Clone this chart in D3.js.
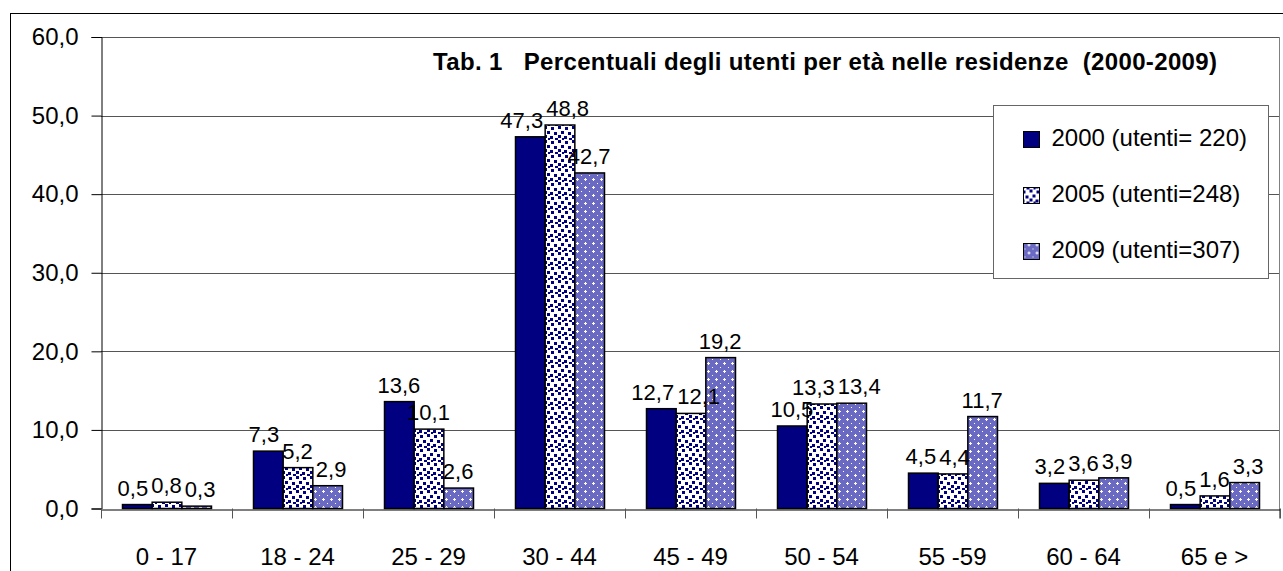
<!DOCTYPE html>
<html>
<head>
<meta charset="utf-8">
<script src="https://cdn.jsdelivr.net/npm/d3@7/dist/d3.min.js"></script>
<style>
  body { margin:0; background:#fff; }
  text { font-family: "Liberation Sans", Arial, sans-serif; fill:#000; }
</style>
</head>
<body>
<div id="chart"></div>
<script>
// data
const categories = ["0 - 17","18 - 24","25 - 29","30 - 44","45 - 49","50 - 54","55 -59","60 - 64","65 e >"];
const years = ["2000","2005","2009"];
const legendLabels = ["2000 (utenti= 220)","2005 (utenti=248)","2009 (utenti=307)"];
const v2000 = [0.5, 7.3, 13.6, 47.3, 12.7, 10.5, 4.5, 3.2, 0.5];
const v2005 = [0.8, 5.2, 10.1, 48.8, 12.1, 13.3, 4.4, 3.6, 1.6];
const v2009 = [0.3, 2.9, 2.6, 42.7, 19.2, 13.4, 11.7, 3.9, 3.3];
const yTicks = [0,10,20,30,40,50,60];
const title = "Tab. 1   Percentuali degli utenti per età nelle residenze  (2000-2009)";

const series = [v2000, v2005, v2009];
const fills = ["#000080","url(#dots)","url(#fine)"];
const fmt = d => d.toFixed(1).replace(".", ",");

const W = 1283, H = 571;
const pLeft = 101, pRight = 1280, pTop = 37, pBottom = 508.5;

const svg = d3.select("#chart").append("svg")
    .attr("width", W).attr("height", H);

// patterns
const defs = svg.append("defs");
const fine = defs.append("pattern").attr("id","fine")
    .attr("patternUnits","userSpaceOnUse").attr("width",8).attr("height",8);
fine.append("rect").attr("width",8).attr("height",8).attr("fill","#6a6ac2");
fine.append("rect").attr("x",3).attr("y",2).attr("width",1).attr("height",3).attr("fill","#fff");
fine.append("rect").attr("x",2).attr("y",3).attr("width",3).attr("height",1).attr("fill","#fff");
fine.append("rect").attr("x",7).attr("y",7).attr("width",1).attr("height",1).attr("fill","#fff");

const dots = defs.append("pattern").attr("id","dots")
    .attr("patternUnits","userSpaceOnUse").attr("width",14).attr("height",14);
dots.append("rect").attr("width",14).attr("height",14).attr("fill","#fff");
[[1,1],[8,0],[11,5],[4,6],[0,10],[8,9],[12,12],[5,12]].forEach(p => {
  dots.append("rect").attr("x",p[0]).attr("y",p[1]).attr("width",3).attr("height",3).attr("fill","#000080");
});

// outer border
svg.append("rect").attr("x",10.5).attr("y",13.5).attr("width",1300).attr("height",600)
    .attr("fill","none").attr("stroke","#000");

const x = d3.scaleBand().domain(categories).range([pLeft, pRight]);
const xs = d3.scaleBand().domain(years).range([21, 110]);
const y = d3.scaleLinear().domain([0,60]).range([pBottom, pTop]);

// gridlines
svg.append("g").selectAll("line").data(yTicks.slice(1)).enter().append("line")
    .attr("x1", pLeft).attr("x2", pRight)
    .attr("y1", d => Math.round(y(d)) + 0.5).attr("y2", d => Math.round(y(d)) + 0.5)
    .attr("stroke","#555");
svg.append("line").attr("x1", pRight - 0.5).attr("x2", pRight - 0.5)
    .attr("y1", pTop).attr("y2", pBottom + 10).attr("stroke","#808080");

// y axis
const yAxis = svg.append("g").attr("transform","translate(" + (pLeft + 0.5) + ",0)")
    .call(d3.axisLeft(y).tickValues(yTicks).tickFormat(fmt).tickSize(10).tickPadding(13));
yAxis.selectAll("text").style("font-size","24px").attr("font-family",null);
yAxis.select(".domain").attr("stroke","#000");

// bars
const barLayer = svg.append("g");
const labelLayer = svg.append("g");
categories.forEach((c, ci) => {
  const g = barLayer.append("g").attr("transform", "translate(" + x(c) + ",0)");
  const gl = labelLayer.append("g").attr("transform", "translate(" + x(c) + ",0)");
  const labs = [];
  years.forEach((yr, si) => {
    const v = series[si][ci];
    g.append("rect")
      .attr("x", xs(yr) + 0.5).attr("width", xs.bandwidth())
      .attr("y", y(v)).attr("height", pBottom - y(v))
      .attr("fill", fills[si]).attr("stroke","#000").attr("stroke-width",1.5);
    const t = gl.append("text")
      .attr("y", y(v) - 9)
      .attr("text-anchor","middle")
      .style("font-size","22px")
      .text(fmt(v));
    labs.push({ t: t, cx: xs(yr) + xs.bandwidth() / 2, y: y(v) - 9, w: t.node().getComputedTextLength() });
  });
  // spread labels apart that sit at about the same height
  for (let k = 0; k < 20; k++) {
    for (let i = 0; i < labs.length - 1; i++) {
      const a = labs[i], b = labs[i + 1];
      if (Math.abs(a.y - b.y) > 20) continue;
      const need = (a.w + b.w) / 2 + 3 - (b.cx - a.cx);
      if (need > 0) { a.cx -= need / 2; b.cx += need / 2; }
    }
  }
  labs.forEach(l => l.t.attr("x", l.cx));
});

// x axis
const xAxis = svg.append("g").attr("transform","translate(0," + (Math.round(pBottom) + 0.5) + ")")
    .call(d3.axisBottom(x).tickSize(0).tickPadding(38));
xAxis.selectAll("text").style("font-size","24px").attr("font-family",null);
xAxis.select(".domain").attr("stroke","#000");
svg.append("g").selectAll("line").data(categories.concat(["end"])).enter().append("line")
    .attr("x1", (d, i) => Math.round(pLeft + i * x.bandwidth()) + 0.5)
    .attr("x2", (d, i) => Math.round(pLeft + i * x.bandwidth()) + 0.5)
    .attr("y1", pBottom).attr("y2", pBottom + 10).attr("stroke","#555");

// title
svg.append("text").attr("x", 433).attr("y", 70)
    .style("font-size","24px").style("font-weight","bold")
    .attr("xml:space","preserve").style("white-space","pre")
    .attr("textLength", 784).attr("lengthAdjust","spacing")
    .text(title);

// legend
const lg = svg.append("g").attr("transform","translate(993.5,105.5)");
lg.append("rect").attr("width",275).attr("height",173)
    .attr("fill","#fff").attr("stroke","#666");
legendLabels.forEach((t, i) => {
  lg.append("rect").attr("x",30).attr("y",26 + i * 56).attr("width",16).attr("height",16)
    .attr("fill", fills[i]).attr("stroke","#000");
  lg.append("text").attr("x",58).attr("y",40 + i * 56)
    .style("font-size","24px").text(t);
});
</script>
</body>
</html>
